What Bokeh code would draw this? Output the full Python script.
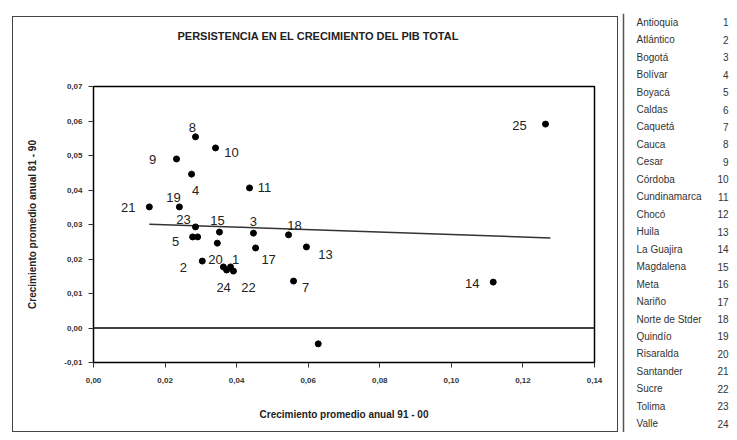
from bokeh.plotting import figure
from bokeh.models import (Range1d, FixedTicker, CustomJSTickFormatter, ColumnDataSource,
                          Span, FactorRange, Title)
from bokeh.layouts import row
from bokeh.core.properties import value
from bokeh.embed import file_html
from bokeh.resources import INLINE

# ---------------- data ----------------
ids = [str(i) for i in range(1, 26)]
growth_91_00 = [0.0383, 0.0304, 0.0447, 0.0274, 0.0277, 0.0291, 0.0559, 0.0285, 0.0232, 0.0341,
                0.0436, 0.0628, 0.0595, 0.1117, 0.0352, 0.0346, 0.0453, 0.0545, 0.0240, 0.0363,
                0.0156, 0.0391, 0.0285, 0.0372, 0.1263]
growth_81_90 = [0.0177, 0.0194, 0.0275, 0.0446, 0.0264, 0.0264, 0.0136, 0.0554, 0.0490, 0.0522,
                0.0406, -0.0046, 0.0235, 0.0133, 0.0278, 0.0246, 0.0232, 0.0270, 0.0351, 0.0177,
                0.0351, 0.0165, 0.0293, 0.0168, 0.0591]
point_labels = ["1", "2", "3", "4", "5", "", "7", "8", "9", "10",
                "11", "", "13", "14", "15", "", "17", "18", "19", "20",
                "21", "22", "23", "24", "25"]
trend_x = [0.0156, 0.1277]
trend_y = [0.0301, 0.0261]
x_ticks = [0.0, 0.02, 0.04, 0.06, 0.08, 0.10, 0.12, 0.14]
y_ticks = [-0.01, 0.0, 0.01, 0.02, 0.03, 0.04, 0.05, 0.06, 0.07]
departments = ["Antioquia", "Atlántico", "Bogotá", "Bolívar", "Boyacá", "Caldas", "Caquetá",
               "Cauca", "Cesar", "Córdoba", "Cundinamarca", "Chocó", "Huila", "La Guajira",
               "Magdalena", "Meta", "Nariño", "Norte de Stder", "Quindío", "Risaralda",
               "Santander", "Sucre", "Tolima", "Valle"]
dept_numbers = [str(i) for i in range(1, 25)]

# label placement (screen-pixel offsets, styling only)
label_dx = [5, -19, 0, 4, -17, 0, 12, -3, -24, 16, 15, 0, 19, -21, -2, 0, 13, 6, -6, -8,
            -21, 15, -12, -3, -26]
label_dy = [-7, 6, -12, 16, 5, 0, 6, -9, 1, 5, 0, 0, 8, 1, -12, 0, 12, -9, -9, -7,
            1, 16, -7, 17, 1]

FONT = "Liberation Sans"

src = ColumnDataSource(dict(x=growth_91_00, y=growth_81_90, lab=point_labels,
                            dx=label_dx, dy=label_dy))

p = figure(width=604, height=414, output_backend="svg", toolbar_location=None,
           x_range=Range1d(0, 0.14), y_range=Range1d(-0.01, 0.07), title_location=None,
           min_border_left=80, min_border_right=23, min_border_top=69, min_border_bottom=69,
           margin=(17, 1, 1, 13))
p.frame_align = False
p.styles = {"outline": "1.5px solid #444444"}
p.xgrid.visible = False
p.ygrid.visible = False
p.outline_line_color = "black"
p.outline_line_width = 1.5
p.background_fill_color = "white"
p.border_fill_color = "white"

# spacer (closest to frame), then the real title above it
p.add_layout(Title(text=" ", text_font_size="1px", standoff=42), "above")
p.add_layout(Title(text="PERSISTENCIA EN EL CRECIMIENTO DEL PIB TOTAL",
                   align="left", offset=84, vertical_align="bottom", standoff=0,
                   text_font=FONT, text_font_size="11px", text_font_style="bold",
                   text_color="#222222"), "above")

fmt = CustomJSTickFormatter(code="return tick.toFixed(2).replace('.', ',');")
for ax, ticks in ((p.xaxis[0], x_ticks), (p.yaxis[0], y_ticks)):
    ax.ticker = FixedTicker(ticks=ticks)
    ax.formatter = fmt
    ax.minor_tick_line_color = None
    ax.major_tick_in = 0
    ax.major_tick_out = 5
    ax.axis_line_color = "black"
    ax.major_tick_line_color = "#333333"
    ax.major_label_text_font = FONT
    ax.major_label_text_font_size = "8px"
    ax.major_label_text_font_style = "bold"
    ax.major_label_text_color = "#333333"
    ax.axis_label_text_font = FONT
    ax.axis_label_text_font_size = "10px"
    ax.axis_label_text_font_style = "bold"
    ax.axis_label_text_color = "#222222"

p.xaxis.axis_label = "Crecimiento promedio anual 91 - 00"
p.yaxis.axis_label = "Crecimiento promedio anual 81 - 90"
p.xaxis.major_label_standoff = 10
p.xaxis.axis_label_standoff = 23
p.yaxis.major_label_standoff = 6
p.yaxis.axis_label_standoff = 23

p.add_layout(Span(location=0, dimension="width", line_color="black", line_width=1.5))
p.line(trend_x, trend_y, line_color="#333333", line_width=1.5)
p.scatter("x", "y", source=src, size=6, marker="circle", fill_color="black", line_color="black")
p.text("x", "y", text="lab", source=src, x_offset="dx", y_offset="dy",
       text_font=value(FONT), text_font_size="13px", text_color="#222222",
       text_align="center", text_baseline="middle")

# ---------------- department list ----------------
q = figure(width=111, height=432, output_backend="svg", toolbar_location=None,
           x_range=Range1d(0, 111), y_range=FactorRange(factors=departments[::-1], range_padding=0),
           min_border_left=0, min_border_right=0, min_border_top=13, min_border_bottom=0)
q.frame_align = False
q.xaxis.visible = False
q.yaxis.visible = False
q.xgrid.visible = False
q.ygrid.visible = False
q.outline_line_color = None
qsrc = ColumnDataSource(dict(name=departments, num=dept_numbers))
q.add_layout(Span(location=5, dimension="height", line_color="#555555", line_width=1.5))
q.text(x=18, y="name", text="name", source=qsrc, text_font=value(FONT),
       text_font_size="10px", text_color="#333333", text_baseline="middle")
q.text(x=110, y="name", text="num", source=qsrc, text_font=value(FONT),
       text_font_size="10px", text_color="#333333", text_baseline="middle",
       text_align="right")

layout = row(p, q, spacing=0)
open("out.html", "w").write(file_html(layout, INLINE))
